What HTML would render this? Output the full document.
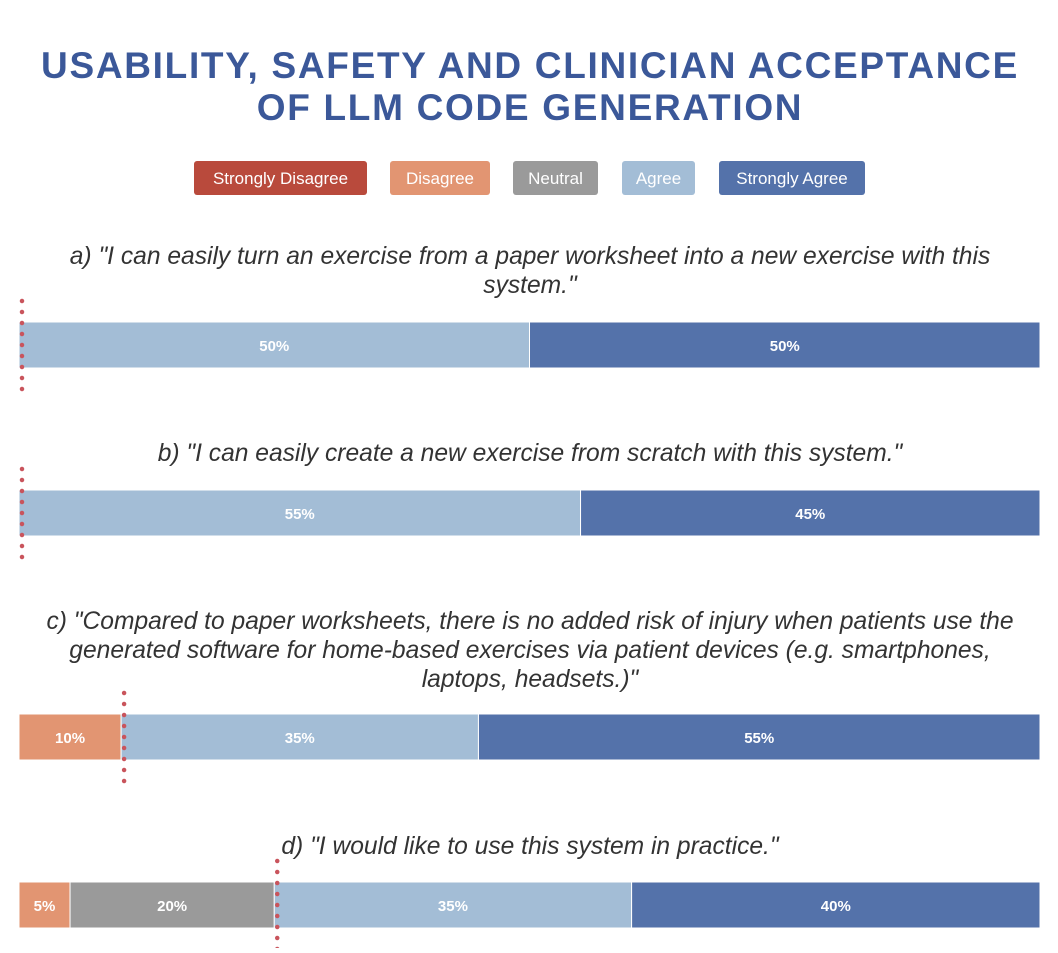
<!DOCTYPE html>
<html><head><meta charset="utf-8"><style>
body{margin:0;background:#fff;width:1058px;height:948px;overflow:hidden;font-family:"Liberation Sans",sans-serif}
</style></head><body>
<svg id="chart" width="1058" height="948" xmlns="http://www.w3.org/2000/svg">
<text x="530" y="78" text-anchor="middle" font-size="37" font-weight="bold" fill="#3b5899" letter-spacing="1.7">USABILITY, SAFETY AND CLINICIAN ACCEPTANCE</text>
<text x="530" y="120" text-anchor="middle" font-size="37" font-weight="bold" fill="#3b5899" letter-spacing="1.7">OF LLM CODE GENERATION</text>
<g id="legend"></g>
<g id="bars"></g>
</svg>
<script>
const categories=["Strongly Disagree","Disagree","Neutral","Agree","Strongly Agree"];
const colors=["#b94a3c","#e29572","#9a9a9a","#a3bdd6","#5472aa"];
const legendX=[194,390,513,622,719];
const legendW=[173,100,85,73,146];
const questions=[
 ["a) \"I can easily turn an exercise from a paper worksheet into a new exercise with this","system.\""],
 ["b) \"I can easily create a new exercise from scratch with this system.\""],
 ["c) \"Compared to paper worksheets, there is no added risk of injury when patients use the","generated software for home-based exercises via patient devices (e.g. smartphones,","laptops, headsets.)\""],
 ["d) \"I would like to use this system in practice.\""]
];
const stronglyDisagree=[0,0,0,0];
const disagree=[0,0,10,5];
const neutral=[0,0,0,20];
const agree=[50,55,35,35];
const stronglyAgree=[50,45,55,40];
const barTops=[322,490,714,882];
const textTops=[264,461,629,854];
const NS="http://www.w3.org/2000/svg";
const x0=19,x1=1040,barH=46;
function xs(p){return x0+(x1-x0)*p/100;}
function mk(t,a,parent){const e=document.createElementNS(NS,t);for(const k in a)e.setAttribute(k,a[k]);parent.appendChild(e);return e;}
const lg=document.getElementById('legend');
categories.forEach((c,i)=>{
 const r=mk('rect',{x:legendX[i],y:161,width:legendW[i],height:34,rx:3,fill:colors[i]},lg);
 
 
 const t=mk('text',{x:legendX[i]+legendW[i]/2,y:184,'text-anchor':'middle','font-size':17,fill:'#fff'},lg);
 t.textContent=c;
 
 
});
const bg=document.getElementById('bars');
questions.forEach((q,qi)=>{
 q.forEach((line,li)=>{
  const t=mk('text',{x:530,y:textTops[qi]+li*29,'text-anchor':'middle','font-size':24.6,'font-style':'italic',fill:'#333'},bg);
  t.textContent=line;
  
  
 });
 const vals=[stronglyDisagree[qi],disagree[qi],neutral[qi],agree[qi],stronglyAgree[qi]];
 let cum=0,agreeStart=0;
 vals.forEach((v,i)=>{
  if(i===3)agreeStart=cum;
  if(v>0){
   const r=mk('rect',{x:xs(cum),y:barTops[qi],width:xs(cum+v)-xs(cum),height:barH,fill:colors[i],stroke:'#fff','stroke-width':1},bg);
   
   
   const t=mk('text',{x:(xs(cum)+xs(cum+v))/2,y:barTops[qi]+29,'text-anchor':'middle','font-size':15,'font-weight':'bold',fill:'#fff'},bg);
   t.textContent=v+'%';
   
   
  }
  cum+=v;
 });
 const lx=xs(agreeStart)+3;
 const ln=mk('line',{x1:lx,x2:lx,y1:barTops[qi]-21,y2:barTops[qi]+barH+22,stroke:'#c9545c','stroke-width':4.5,'stroke-linecap':'round','stroke-dasharray':'0 11'},bg);
 
 
});
</script>
</body></html>
